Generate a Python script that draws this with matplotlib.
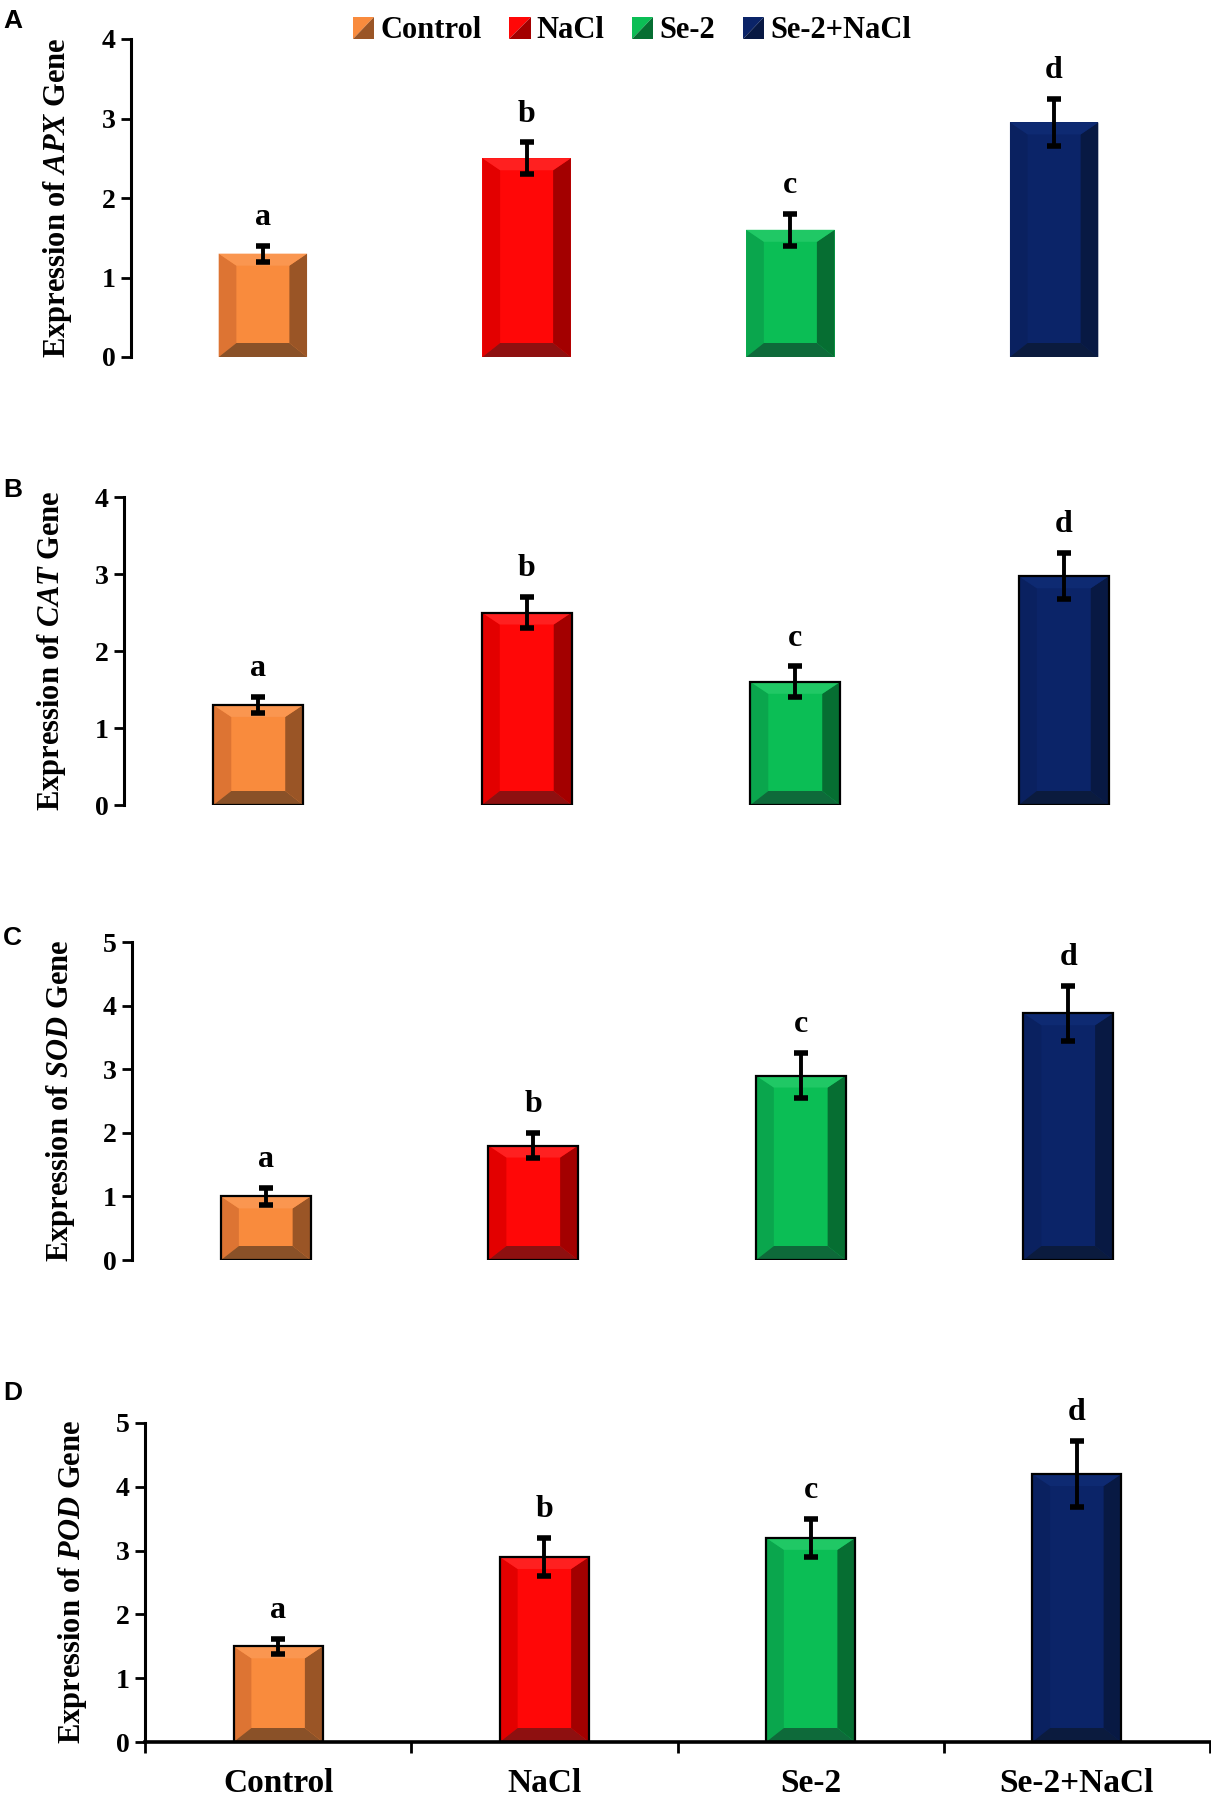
import matplotlib
matplotlib.use("Agg")
import matplotlib.pyplot as plt
from matplotlib.patches import Polygon
from matplotlib.legend_handler import HandlerBase

plt.rcParams["font.family"] = "Liberation Serif"
plt.rcParams["font.weight"] = "bold"
plt.rcParams["mathtext.fontset"] = "custom"
plt.rcParams["mathtext.rm"] = "Liberation Serif:bold"
plt.rcParams["mathtext.bf"] = "Liberation Serif:bold"
plt.rcParams["mathtext.bfit"] = "Liberation Serif:italic:bold"
plt.rcParams["mathtext.it"] = "Liberation Serif:italic:bold"

# ---- data ----
treatments = ["Control", "NaCl", "Se-2", "Se-2+NaCl"]
letters = ["a", "b", "c", "d"]

genes = ["APX", "CAT", "SOD", "POD"]
apx_mean = [1.3, 2.5, 1.6, 2.95]
apx_err = [0.1, 0.2, 0.2, 0.3]
cat_mean = [1.3, 2.5, 1.6, 2.97]
cat_err = [0.1, 0.2, 0.2, 0.3]
sod_mean = [1.0, 1.8, 2.9, 3.88]
sod_err = [0.13, 0.2, 0.35, 0.43]
pod_mean = [1.5, 2.9, 3.2, 4.2]
pod_err = [0.12, 0.3, 0.3, 0.52]

# bevel shades per treatment: centre, left, right, bottom, top
shades = {
    "Control": ("#F98B3D", "#DD7433", "#9A5526", "#8A5128", "#FA9650"),
    "NaCl": ("#FF0707", "#E30000", "#A30000", "#8E1010", "#FF2020"),
    "Se-2": ("#0BBE55", "#0AA64D", "#066E32", "#0E6A3A", "#20C865"),
    "Se-2+NaCl": ("#0B2468", "#0A2160", "#081943", "#0B1B3E", "#0E2A72"),
}

W, H = 1211, 1803
# (left, right, bottom, top) in pixels, ymax, label right edge px, panel letter y px
panels = [
    ("A", genes[0], apx_mean, apx_err, (131, 1186, 357, 39), 4, 74, 21),
    ("B", genes[1], cat_mean, cat_err, (124, 1198, 805, 497), 4, 68, 490),
    ("C", genes[2], sod_mean, sod_err, (132, 1202, 1260, 942), 5, 77, 938),
    ("D", genes[3], pod_mean, pod_err, (145, 1210, 1742, 1423), 5, 89, 1393),
]

BAR_W = 0.335


def bevel_bar(ax, x, h, ppu, cols, outline):
    c, cl, cr, cb, ct = cols
    x0, x1 = x - BAR_W / 2, x + BAR_W / 2
    sw = BAR_W * 0.2
    th = 12 / ppu
    bh = 14 / ppu
    ax.bar(x, h, width=BAR_W, color=c, linewidth=0, zorder=2)
    polys = [
        ([(x0, 0), (x0, h), (x0 + sw, h - th), (x0 + sw, bh)], cl),
        ([(x1, 0), (x1, h), (x1 - sw, h - th), (x1 - sw, bh)], cr),
        ([(x0, 0), (x1, 0), (x1 - sw, bh), (x0 + sw, bh)], cb),
        ([(x0, h), (x1, h), (x1 - sw, h - th), (x0 + sw, h - th)], ct),
    ]
    for pts, col in polys:
        ax.add_patch(Polygon(pts, closed=True, facecolor=col, edgecolor="none", zorder=2))
    if outline:
        ax.bar(x, h, width=BAR_W, facecolor="none", edgecolor="black", linewidth=1.6, zorder=3)


class BevelHandler(HandlerBase):
    def create_artists(self, legend, orig_handle, xd, yd, width, height, fontsize, trans):
        c, cl, cr, cb, ct = shades[orig_handle.get_label()]
        s = min(width, height)
        x0, y0 = xd + (width - s) / 2, -yd + (height - s) / 2
        up = Polygon([(x0, y0), (x0, y0 + s), (x0 + s, y0 + s)], closed=True,
                     facecolor=c, edgecolor="none", transform=trans)
        dn = Polygon([(x0, y0), (x0 + s, y0), (x0 + s, y0 + s)], closed=True,
                     facecolor=cr, edgecolor="none", transform=trans)
        return [up, dn]


fig = plt.figure(figsize=(W / 100, H / 100), dpi=100)

for tag, gene, means, errs, (l, r, b, t), ymax, lab_px, tag_y in panels:
    ax = fig.add_axes([l / W, 1 - b / H, (r - l) / W, (b - t) / H])
    ppu = (b - t) / ymax
    xs = list(range(len(treatments)))
    for x, m, tr in zip(xs, means, treatments):
        bevel_bar(ax, x, m, ppu, shades[tr], outline=(tag != "A"))
    ax.errorbar(xs, means, yerr=errs, fmt="none", ecolor="black",
                elinewidth=2.8, capsize=4.7, capthick=4, zorder=4)
    for x, m, e, let in zip(xs, means, errs, letters):
        ax.annotate(let, (x, m + e), xytext=(0, 15), textcoords="offset points",
                    ha="center", va="baseline", fontsize=23, fontweight="bold")

    ax.set_xlim(-0.5, 3.5)
    ax.set_ylim(0, ymax)
    ax.set_yticks(range(ymax + 1))
    ax.tick_params(axis="y", direction="out", length=7, width=2, labelsize=20, pad=4)
    for lbl in ax.get_yticklabels():
        lbl.set_fontweight("bold")
    ax.spines[["top", "right"]].set_visible(False)
    ax.spines["left"].set_linewidth(2.2)
    ax.set_ylabel(f"Expression of $\\mathbfit{{{gene}}}$ Gene", fontsize=22, fontweight="bold")
    ax.yaxis.set_label_coords((lab_px - l) / (r - l), 0.5)

    if tag == "D":
        ax.spines["bottom"].set_linewidth(2.6)
        ax.set_xticks(xs)
        ax.set_xticklabels(treatments, fontsize=24, fontweight="bold")
        ax.set_xticks([-0.5, 0.5, 1.5, 2.5, 3.5], minor=True)
        ax.tick_params(axis="x", which="major", length=0, pad=19)
        ax.tick_params(axis="x", which="minor", direction="out", length=8, width=2)
    else:
        ax.spines["bottom"].set_visible(False)
        ax.set_xticks([])

    fig.text(3 / W, 1 - tag_y / H, tag, family="Liberation Sans", fontweight="bold",
             fontsize=19, ha="left", va="center")

handles = [plt.Rectangle((0, 0), 1, 1, label=tr) for tr in treatments]
fig.legend(handles=handles, labels=treatments, loc="center",
           bbox_to_anchor=(632 / W, 1 - 31 / H), ncol=4, frameon=False,
           handler_map={plt.Rectangle: BevelHandler()},
           handlelength=0.7, handleheight=0.7, handletextpad=0.2,
           columnspacing=0.9, prop={"family": "Liberation Serif", "weight": "bold", "size": 22})

fig.savefig("out.png", dpi=100)
